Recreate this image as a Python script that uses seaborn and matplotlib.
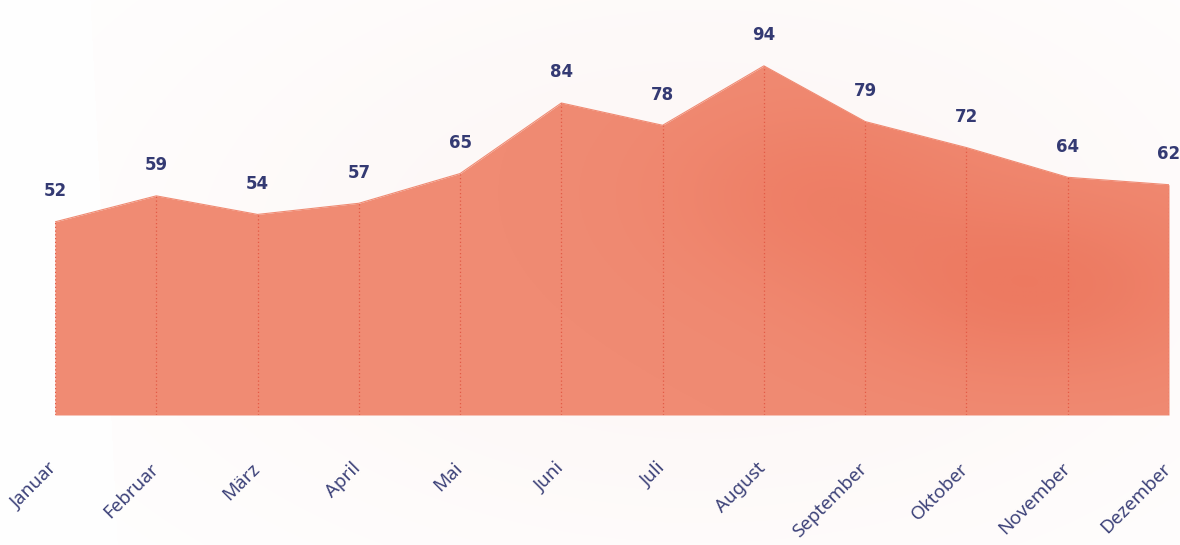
import numpy as np
import pandas as pd
import matplotlib
matplotlib.use("Agg")
import matplotlib.pyplot as plt
import matplotlib.transforms as mtransforms
import seaborn as sns

months = ["Januar", "Februar", "März", "April", "Mai", "Juni", "Juli",
          "August", "September", "Oktober", "November", "Dezember"]
values = [52, 59, 54, 57, 65, 84, 78, 94, 79, 72, 64, 62]

df = pd.DataFrame({"idx": np.arange(len(months)), "month": months, "value": values})

sns.set_theme(style="white")
plt.rcParams['font.family'] = ['Noto Sans', 'DejaVu Sans']

W, H = 11.8, 5.45
fig = plt.figure(figsize=(W, H), dpi=100)
fig.patch.set_facecolor("white")

# soft background wash
bg = fig.add_axes([0, 0, 1, 1], zorder=0)
yy, xx = np.mgrid[0:545, 0:1180]
wash = np.exp(-(((xx - 700) / 600.0) ** 2 + ((yy - 250) / 350.0) ** 2))
wash[xx < 90 + (yy * 0.05)] *= 0.2
img = np.ones((545, 1180, 3))
tint = np.array([0.985, 0.93, 0.92])
img = img * (1 - 0.45 * wash[..., None]) + tint * (0.45 * wash[..., None])
bg.imshow(img, extent=[0, 1, 0, 1], aspect="auto")
bg.axis("off")

left = 55 / 1180
right = 1169 / 1180
bottom = (545 - 415) / 545
ppu = 156 / 42.0
ymax = 110
height = ymax * ppu / 545
ax = fig.add_axes([left, bottom, right - left, height], zorder=1)
ax.patch.set_alpha(0)

base_color = "#f08b73"
poly = ax.fill_between(df["idx"], 0, df["value"], color=base_color, linewidth=0, zorder=1)

# darker glow clipped to area
gx, gy = np.meshgrid(np.linspace(0, 11, 600), np.linspace(0, ymax, 300))
glow = (0.9 * np.exp(-(((gx - 9.7) / 1.8) ** 2 + ((gy - 35) / 25) ** 2))
        + 0.6 * np.exp(-(((gx - 7.5) / 1.5) ** 2 + ((gy - 60) / 25) ** 2)))
glow = np.clip(glow, 0, 1)
rgba = np.zeros(gx.shape + (4,))
rgba[..., 0] = 0.92
rgba[..., 1] = 0.40
rgba[..., 2] = 0.30
rgba[..., 3] = glow * 0.5
im = ax.imshow(rgba, extent=[0, 11, 0, ymax], origin="lower", aspect="auto", zorder=2)
im.set_clip_path(poly.get_paths()[0], transform=ax.transData)

sns.lineplot(data=df, x="idx", y="value", ax=ax, color=base_color, linewidth=0.8, zorder=3)

for i, v in zip(df["idx"], df["value"]):
    ax.vlines(i, 0, v, colors="#e25a45", linestyles=(0, (1, 2)), linewidth=0.9, zorder=4)
    ax.annotate(str(v), (i, v), xytext=(0, 22), textcoords="offset points",
                ha="center", va="center", fontsize=12, fontweight="bold",
                family=["DejaVu Sans"],
                color="#343a73", annotation_clip=False, zorder=5)

ax.set_xlim(0, 11)
ax.set_ylim(0, ymax)
ax.set_xticks(df["idx"])
ax.set_xticklabels(months, rotation=45, ha="right", rotation_mode="anchor",
                   fontsize=13.5, color="#3d4279")
ax.tick_params(axis="x", length=0, pad=32)
shift = mtransforms.ScaledTranslation(-7 / 100, 0, fig.dpi_scale_trans)
for lab in ax.get_xticklabels():
    lab.set_transform(lab.get_transform() + shift)
ax.set_yticks([])
ax.set_xlabel("")
ax.set_ylabel("")
for s in ax.spines.values():
    s.set_visible(False)

fig.savefig("out.png", dpi=100)
